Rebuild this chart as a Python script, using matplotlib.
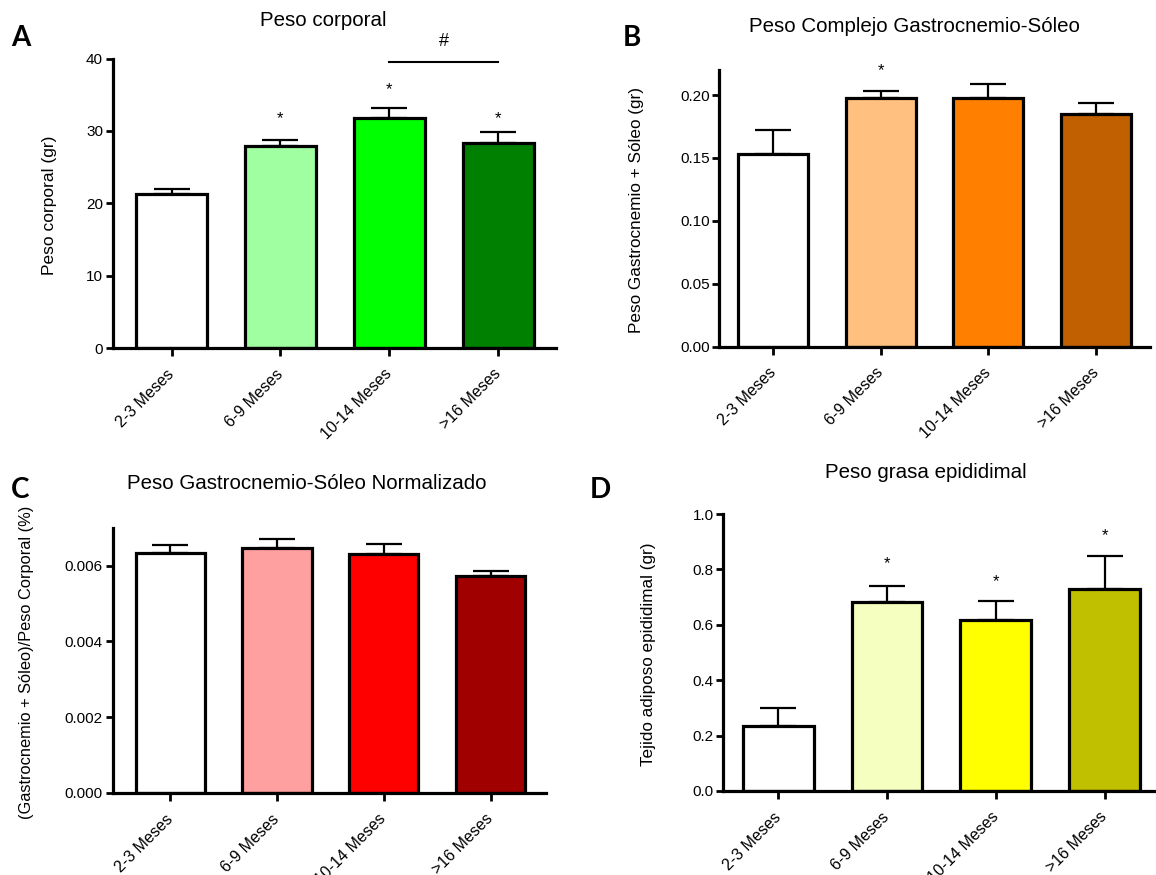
import numpy as np
import matplotlib
matplotlib.use("Agg")
import matplotlib.pyplot as plt
from matplotlib.transforms import ScaledTranslation

plt.rcParams['font.family'] = ['Liberation Sans', 'DejaVu Sans']

groups = ['2-3 Meses', '6-9 Meses', '10-14 Meses', '>16 Meses']

# A: body weight
peso_mean = [21.25, 27.9, 31.84, 28.36]
peso_sem = [0.74, 0.9, 1.26, 1.42]
peso_stars = [None, 31.7, 35.7, 31.7]

# B: gastrocnemius-soleus weight
gs_mean = [0.1531, 0.1979, 0.1981, 0.1853]
gs_sem = [0.0195, 0.0050, 0.0107, 0.0086]
gs_stars = [None, 0.2197, None, None]

# C: normalised
norm_mean = [0.00634, 0.00646, 0.00630, 0.00572]
norm_sem = [0.00021, 0.00023, 0.00026, 0.00015]

# D: epididymal fat
grasa_mean = [0.236, 0.681, 0.619, 0.729]
grasa_sem = [0.062, 0.060, 0.067, 0.120]
grasa_stars = [None, 0.82, 0.756, 0.921]

colors_a = ['#FFFFFF', '#A0FFA0', '#00FF00', '#008000']
colors_b = ['#FFFFFF', '#FFC080', '#FF8000', '#C06000']
colors_c = ['#FFFFFF', '#FFA0A0', '#FF0000', '#A00000']
colors_d = ['#FFFFFF', '#F4FFC0', '#FFFF00', '#C0C000']

W, H = 1156, 875
fig = plt.figure(figsize=(W / 100, H / 100), dpi=100)


def px_axes(left, right, top, bottom):
    return fig.add_axes([left / W, 1 - bottom / H, (right - left) / W, (bottom - top) / H])


def panel(ax, means, sems, colors, ylim, yticks, ytl, xlim, stars=None):
    x = np.arange(len(groups))
    ax.bar(x, means, width=0.65, color=colors, edgecolor='black', linewidth=2.3, zorder=2)
    ax.errorbar(x, means, yerr=[np.zeros(len(sems)), sems], fmt='none', ecolor='black',
                elinewidth=1.6, capsize=13, capthick=1.6, zorder=3)
    ax.set_xlim(xlim)
    ax.set_ylim(ylim)
    ax.set_yticks(yticks)
    ax.set_yticklabels(ytl, fontsize=11)
    ax.set_xticks(x)
    ax.set_xticklabels(groups, rotation=45, ha='right', va='center',
                       rotation_mode='anchor', fontsize=11.5)
    shift = ScaledTranslation(5 / 100, 0, fig.dpi_scale_trans)
    for lab in ax.get_xticklabels():
        lab.set_transform(lab.get_transform() + shift)
    for s in ['top', 'right']:
        ax.spines[s].set_visible(False)
    for s in ['left', 'bottom']:
        ax.spines[s].set_linewidth(2.3)
    ax.tick_params(axis='y', length=5, width=2, pad=2)
    ax.tick_params(axis='x', length=6, width=2, pad=11)
    ax.patch.set_alpha(0)
    if stars:
        for i, s in enumerate(stars):
            if s is not None:
                ax.text(i, s, '*', ha='center', va='center', fontsize=12)


ax_a = px_axes(112.7, 556, 58.5, 348)
panel(ax_a, peso_mean, peso_sem, colors_a, (0, 40), [0, 10, 20, 30, 40],
      ['0', '10', '20', '30', '40'], (-0.54, 3.53), peso_stars)
ax_a.plot([2, 3], [39.5, 39.5], color='black', lw=1.5, clip_on=False)
ax_a.text(2.5, 42.4, '#', ha='center', va='center', fontsize=13)

ax_b = px_axes(719.3, 1150, 70, 346.5)
panel(ax_b, gs_mean, gs_sem, colors_b, (0, 0.22), [0, 0.05, 0.10, 0.15, 0.20],
      ['0.00', '0.05', '0.10', '0.15', '0.20'], (-0.5, 3.5), gs_stars)

ax_c = px_axes(112.7, 546, 527.7, 793)
panel(ax_c, norm_mean, norm_sem, colors_c, (0, 0.007), [0, 0.002, 0.004, 0.006],
      ['0.000', '0.002', '0.004', '0.006'], (-0.54, 3.52))

ax_d = px_axes(723.3, 1159, 514, 791)
panel(ax_d, grasa_mean, grasa_sem, colors_d, (0, 1.0), [0, 0.2, 0.4, 0.6, 0.8, 1.0],
      ['0.0', '0.2', '0.4', '0.6', '0.8', '1.0'], (-0.505, 3.5), grasa_stars)

# titles
fig.text(323 / W, 1 - 20 / H, 'Peso corporal', ha='center', va='center', fontsize=14.8)
fig.text(914 / W, 1 - 27 / H, 'Peso Complejo Gastrocnemio-Sóleo', ha='center', va='center', fontsize=14.8)
fig.text(307 / W, 1 - 483 / H, 'Peso Gastrocnemio-Sóleo Normalizado', ha='center', va='center', fontsize=14.8)
fig.text(926 / W, 1 - 472 / H, 'Peso grasa epididimal', ha='center', va='center', fontsize=14.8)

# y labels
fig.text(50 / W, 1 - 205 / H, 'Peso corporal (gr)', rotation=90, ha='center', va='center', fontsize=12.5)
fig.text(637 / W, 1 - 210 / H, 'Peso Gastrocnemio + Sóleo (gr)', rotation=90, ha='center', va='center', fontsize=12.3)
fig.text(27 / W, 1 - 662 / H, '(Gastrocnemio + Sóleo)/Peso Corporal (%)', rotation=90, ha='center', va='center', fontsize=11.8)
fig.text(648 / W, 1 - 654 / H, 'Tejido adiposo epididimal (gr)', rotation=90, ha='center', va='center', fontsize=12.3)

# panel letters
for letter, (lx, ly) in zip('ABCD', [(21, 38), (632, 38), (20, 490), (600, 490)]):
    fig.text(lx / W, 1 - ly / H, letter, ha='center', va='center', fontsize=20,
             fontweight='bold', family=['Lato', 'DejaVu Sans'])

fig.savefig('out.png', dpi=100)
